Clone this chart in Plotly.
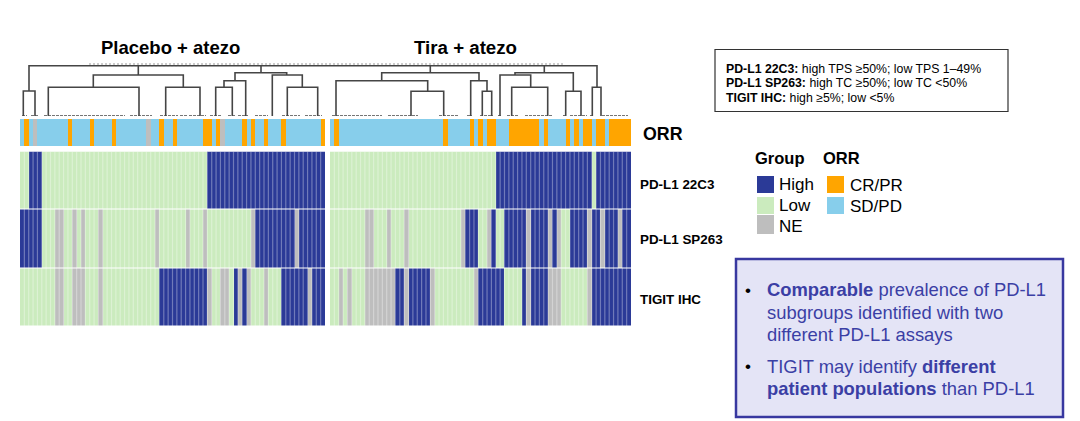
import plotly.graph_objects as go

FONT = "Liberation Sans"
W, H = 1080, 421

# --- column annotations, as runs of (class, number of patients) ---
row_names = ["PD-L1 22C3", "PD-L1 SP263", "TIGIT IHC"]
row_index = [0, 1, 2]

placebo_orr = [("S",1),("O",1),("S",1),("N",1),("S",7),("O",1),("S",4),("O",1),("S",4),("O",1),("S",7),("N",1),
               ("S",2),("O",1),("S",2),("O",1),("S",6),("O",2),("S",1),("O",1),("N",1),("S",4),("O",1),("S",1),
               ("O",1),("S",2),("O",1),("S",3),("O",1),("S",8),("O",1)]
placebo_22c3 = [("L",2),("H",3),("L",38),("H",27)]
placebo_sp263 = [("H",5),("L",3),("N",2),("L",2),("N",1),("L",1),("N",1),("L",3),("N",1),("L",12),("N",1),("L",6),
                 ("N",1),("L",3),("N",1),("L",10),("N",1),("H",9),("N",1),("H",6)]
placebo_tigit = [("L",8),("N",2),("L",2),("N",3),("L",3),("N",1),("L",13),("H",11),("N",1),("L",2),("N",2),("L",1),
                 ("H",1),("N",1),("H",1),("N",1),("L",3),("N",1),("L",3),("H",6),("N",1),("H",3)]

tira_orr = [("S",1),("O",1),("S",24),("O",1),("S",5),("O",1),("S",1),("O",1),("S",1),("O",2),("S",3),("O",7),("S",1),
            ("O",1),("S",4),("O",1),("S",1),("O",1),("S",1),("O",2),("S",1),("O",2),("S",1),("O",5)]
tira_22c3 = [("L",38),("H",22),("L",1),("H",8)]
tira_sp263 = [("L",8),("N",2),("L",3),("N",1),("L",3),("N",1),("L",12),("N",1),("H",3),("L",2),("N",1),("H",1),("L",2),
              ("H",5),("N",1),("H",4),("N",1),("H",1),("N",1),("L",2),("H",4),("N",1),("H",2),("N",1),("H",3),("N",1),("H",2)]
tira_tigit = [("L",2),("N",1),("L",1),("N",1),("L",3),("N",7),("H",2),("N",1),("H",5),("N",1),("L",9),("N",1),("H",6),
              ("L",4),("H",1),("N",1),("H",4),("N",3),("L",6),("N",1),("H",9)]

# --- dendrogram merges: left leg, right leg, merge height, left-leg base, right-leg base ---
dendro_merges = [
    (3.3, 15, 25, 0, 0), (9, 577, 50.3, 25, 28.7),
    (28.3, 119, 28.7, 0, 0), (145.7, 180, 28.7, 0, 0), (73.3, 163.3, 41, 28.7, 28.7),
    (195.7, 212.3, 28.7, 0, 0), (204, 225.7, 35.3, 28.7, 0), (252.3, 282.3, 41, 0, 28.7),
    (267.3, 297.7, 28.7, 0, 0), (215, 266.7, 43.3, 35.3, 41),
    (572.3, 581, 28.7, 0, 0),
    (316, 407.7, 35.3, 0, 24.7), (391, 423.7, 24.7, 0, 0),
    (450.7, 467, 35.3, 0, 24.7), (462.3, 471.7, 24.7, 0, 0), (361.7, 459, 43.3, 35.3, 35.3),
    (480, 510.7, 41, 0, 28.7), (491.7, 527.7, 28.7, 0, 0),
    (545.7, 561, 24.7, 0, 0), (495, 553.3, 43.3, 41, 24.7),
]
dendro_stems = [(118.3, 41, 50.3), (241, 43.3, 50.3), (410.3, 43.3, 50.3), (524.3, 43.3, 50.3)]
dendro_faint = [(69, 543, 52), (95, 180, 49.5)]
leaf_runs = [(2,7),(11,19),(24,105),(110,132),(140,158),(160,168),(169,186),(190,202),(208,216),(218,228),(235,248),
             (262,280),(285,302),(312,362),(368,398),(419,438),(447,452),(460,473),(478,482),(487,498),(505,532),
             (543,547),(550,567),(570,573),(582,608)]

# --- colours ---
C_HIGH, C_LOW, C_NE = "#2B3A97", "#CBEBBE", "#BEBEBE"
C_CR, C_SD = "#FFA500", "#87CEEB"
GROUP_CODE = {"H": 0, "L": 1, "N": 2}
ORR_CODE = {"O": 0, "S": 1, "N": 2}


def expand(runs, code):
    out = []
    for k, n in runs:
        out += [code[k]] * n
    return out


def discrete(colors):
    n = len(colors)
    scale = []
    for i, c in enumerate(colors):
        scale += [[i / n, c], [(i + 1) / n, c]]
    return scale


def px_x(v):
    return v / W


def px_y(v):
    return 1 - v / H


fig = go.Figure()

panels = [
    ("x", [placebo_orr, placebo_22c3, placebo_sp263, placebo_tigit]),
    ("x2", [tira_orr, tira_22c3, tira_sp263, tira_tigit]),
]
for xa, (orr, a, b, c) in panels:
    fig.add_trace(go.Heatmap(z=[expand(orr, ORR_CODE)], y=[0], xaxis=xa, yaxis="y2",
                             zmin=0, zmax=3, colorscale=discrete([C_CR, C_SD, C_NE]), showscale=False,
                             hoverinfo="skip", name="ORR"))
    fig.add_trace(go.Heatmap(z=[expand(r, GROUP_CODE) for r in (a, b, c)], y=row_index, xaxis=xa, yaxis="y",
                             ygap=1, zmin=0, zmax=3, colorscale=discrete([C_HIGH, C_LOW, C_NE]),
                             showscale=False, hoverinfo="skip"))
    # pale seams between patient columns
    sx, sy = [], []
    for i in range(len(expand(a, GROUP_CODE)) - 1):
        sx += [i + 0.5, i + 0.5, None]
        sy += [row_index[0] - 0.5, row_index[-1] + 0.5, None]
    fig.add_trace(go.Scatter(x=sx, y=sy, mode="lines", xaxis=xa, yaxis="y",
                             line=dict(color="rgba(255,255,255,0.33)", width=1.2), showlegend=False,
                             hoverinfo="skip"))

DEND = dict(color="#454545", width=1.6)
for xa, xb, top, ba, bb in dendro_merges:
    fig.add_trace(go.Scatter(x=[xa, xa, xb, xb], y=[ba, top, top, bb], mode="lines", xaxis="x3", yaxis="y3",
                             line=DEND, showlegend=False, hoverinfo="skip", cliponaxis=False))
for x0, ba, top in dendro_stems:
    fig.add_trace(go.Scatter(x=[x0, x0], y=[ba, top], mode="lines", xaxis="x3", yaxis="y3",
                             line=DEND, showlegend=False, hoverinfo="skip", cliponaxis=False))
for xa, xb, h in dendro_faint:
    fig.add_trace(go.Scatter(x=[xa, xb], y=[h, h], mode="lines", xaxis="x3", yaxis="y3",
                             line=dict(color="#9A9A9A", width=1.2, dash="2px,2px"), showlegend=False,
                             hoverinfo="skip", cliponaxis=False))
for xa, xb in leaf_runs:
    fig.add_trace(go.Scatter(x=[xa, xb], y=[0, 0], mode="lines", xaxis="x3", yaxis="y3",
                             line=dict(color="#4A4A4A", width=1.6, dash="3px,1px"), showlegend=False,
                             hoverinfo="skip", cliponaxis=False))

hidden = dict(visible=False, showgrid=False, zeroline=False, fixedrange=True)
fig.update_layout(
    width=W, height=H, margin=dict(l=0, r=0, t=0, b=0), paper_bgcolor="white", plot_bgcolor="white",
    showlegend=False, font=dict(family=FONT, color="black"),
    xaxis=dict(hidden, domain=[px_x(20), px_x(325)], range=[-0.5, 69.5]),
    xaxis2=dict(hidden, domain=[px_x(330), px_x(631)], range=[-0.5, 68.5], anchor="y"),
    yaxis=dict(hidden, domain=[px_y(326.5), px_y(151.5)], range=[2.5, -0.5]),
    yaxis2=dict(hidden, domain=[px_y(146), px_y(119)], range=[-0.5, 0.5], anchor="x"),
    xaxis3=dict(hidden, domain=[px_x(20), px_x(631)], range=[0, 611], anchor="y3"),
    yaxis3=dict(hidden, domain=[px_y(116), px_y(60)], range=[0, 56], anchor="x3"),
)


def label(x, y, text, size, color="black", anchor="left"):
    fig.add_annotation(x=px_x(x), y=px_y(y), xref="paper", yref="paper", text=text, showarrow=False,
                       xanchor=anchor, yanchor="middle", align="left", borderpad=0, borderwidth=0,
                       font=dict(family=FONT, size=size, color=color))


def box(x0, y0, x1, y1, fill, line=None, lw=0):
    fig.add_shape(type="rect", xref="paper", yref="paper", x0=px_x(x0), x1=px_x(x1), y0=px_y(y1), y1=px_y(y0),
                  fillcolor=fill, line=dict(color=line or fill, width=lw))


label(170, 47, "<b>Placebo + atezo</b>", 18.5, anchor="center")
label(465.5, 47, "<b>Tira + atezo</b>", 18.7, anchor="center")
label(643, 134, "<b>ORR</b>", 17.8)
label(640, 184, f"<b>{row_names[0]}</b>", 13.4)
label(640, 239, f"<b>{row_names[1]}</b>", 13.4)
label(640, 299, f"<b>{row_names[2]}</b>", 13.4)

box(715, 49.5, 1008, 111.5, "white", "#333333", 1.2)
label(726, 68.5, "<b>PD-L1 22C3:</b> high TPS ≥50%; low TPS 1–49%", 12.3)
label(726, 83, "<b>PD-L1 SP263:</b> high TC ≥50%; low TC <50%", 12.3)
label(726, 98, "<b>TIGIT IHC:</b> high ≥5%; low <5%", 12.3)

label(755, 158, "<b>Group</b>", 16.5)
label(823, 158, "<b>ORR</b>", 16.5)
box(757, 176, 774, 193, C_HIGH)
box(757, 197, 774, 214, C_LOW)
box(757, 215, 774, 234, C_NE)
box(827, 176, 844, 193, C_CR)
box(827, 197, 844, 214, C_SD)
label(779, 184, "High", 17)
label(779, 205, "Low", 17)
label(779, 226, "NE", 17)
label(850, 185, "CR/PR", 17)
label(850, 206, "SD/PD", 17)

TXT = "#3B3FA5"
box(736, 259, 1063, 417, "#E4E4F6", "#3838A0", 2.5)
label(745, 290, "•", 17)
label(767, 289, "<b>Comparable</b> prevalence of PD-L1", 18.4, TXT)
label(767, 312, "subgroups identified with two", 18.4, TXT)
label(767, 334, "different PD-L1 assays", 18.4, TXT)
label(745, 366, "•", 17)
label(767, 366, "TIGIT may identify <b>different</b>", 18.4, TXT)
label(767, 388, "<b>patient populations</b> than PD-L1", 18.4, TXT)

fig.write_html("out.html", post_script="document.body.style.margin='0';", config={"displayModeBar": False})
